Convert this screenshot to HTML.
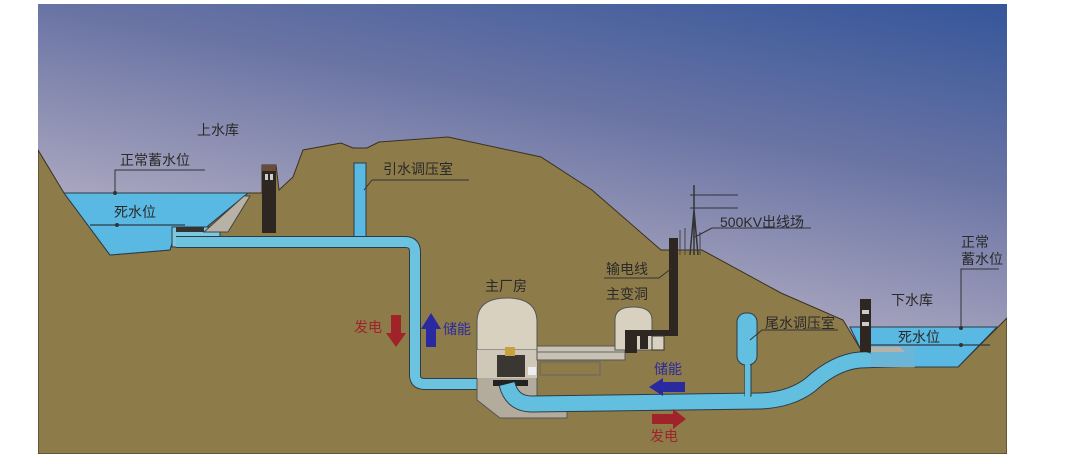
<!DOCTYPE html>
<html><head><meta charset="utf-8"><style>
html,body{margin:0;padding:0;background:#fff;width:1080px;height:473px;overflow:hidden}
svg{display:block}
text{font-family:"Liberation Sans","Noto Sans CJK SC",sans-serif;font-size:14px;fill:#2a2a2a}
</style></head><body>
<svg width="1080" height="473" viewBox="0 0 1080 473">
<defs>
<linearGradient id="sky" x1="1" y1="0" x2="0.6" y2="1">
<stop offset="0" stop-color="#35569a"/>
<stop offset="0.35" stop-color="#6a74a4"/>
<stop offset="0.7" stop-color="#a9a6bf"/>
<stop offset="1" stop-color="#d8cfd4"/>
</linearGradient>
<clipPath id="c"><rect x="38" y="4" width="969" height="450"/></clipPath>
</defs>
<g clip-path="url(#c)">
<rect x="38" y="4" width="969" height="450" fill="url(#sky)"/>
<!-- ground -->
<path d="M38,454 L38,150 L64,193 L110,255 L170,250 L176,230 L203,230 L248,193 L262,193 L262,165 L276,165 L279,190 L293,177 L303,150 L341,143 L353,148 L367,148 L379,142 L448,137 L541,157 L592,190 L661,250 L702,250 L781,293 L843,320 L861,350 L915,367 L958,367 L1007,318 L1007,454 Z" fill="#8e7b4a" stroke="#3a3020" stroke-width="1"/>
<!-- upper lake -->
<path d="M64,193 L248,193 L203,230 L176,230 L170,250 L110,255 Z" fill="#5ab9e2" stroke="#2c3b45" stroke-width="1"/>
<path d="M90,225 L185,225" stroke="#2c3b45" stroke-width="1.2"/>
<path d="M172,227 L220,227 L220,247 L172,247 Z" fill="#7cc6e0" stroke="#2c3b45"/>
<rect x="176" y="227" width="28" height="5" fill="#333"/>
<!-- dam -->
<path d="M204,232 L244,196 L250,196 L228,232 Z" fill="#b8b2a6" stroke="#444"/>
<!-- intake tower -->
<rect x="262" y="165" width="14" height="68" fill="#2e2620"/>
<rect x="262" y="165" width="14" height="6" fill="#6a4a3a"/>
<rect x="265" y="174" width="3" height="6" fill="#ccc"/><rect x="270" y="174" width="3" height="6" fill="#ccc"/>
<!-- surge shaft -->
<rect x="354" y="163" width="12" height="80" fill="#5ab9e2" stroke="#2c3b45"/>
<!-- penstock -->
<path d="M176,242 L405,242 Q415,242 415,252 L415,375 Q415,384 425,384 L492,384" fill="none" stroke="#2c3b45" stroke-width="12"/>
<path d="M176,242 L405,242 Q415,242 415,252 L415,375 Q415,384 425,384 L492,384" fill="none" stroke="#6cc3e0" stroke-width="10"/>
<!-- powerhouse -->
<path d="M477,350 L477,322 Q477,298 507,298 Q537,298 537,322 L537,350 Z" fill="#d8d1c0" stroke="#555"/>
<path d="M477,350 L537,350 L537,400 L567,400 L567,418 L500,418 L477,400 Z" fill="#b3ab9c" stroke="#555"/>
<rect x="477" y="350" width="60" height="28" fill="#cfc8b8"/>
<path d="M537,346 L625,346 L625,360 L537,360 Z" fill="#c8c2b4" stroke="#555"/>
<path d="M537,352 L625,352" stroke="#666"/>
<path d="M540,362 L600,362 L600,375 L540,375 Z" fill="#8e7b4a" stroke="#666"/>
<rect x="497" y="355" width="28" height="22" fill="#3a3632"/>
<rect x="505" y="347" width="10" height="9" fill="#c8a040"/>
<rect x="493" y="380" width="35" height="6" fill="#222"/>
<rect x="528" y="367" width="8" height="8" fill="#eee"/>
<!-- transformer cavern -->
<path d="M615,350 L615,320 Q615,307 633,307 Q652,307 652,320 L652,350 Z" fill="#d8d1c0" stroke="#555"/>
<path d="M625,330 L669,330 L669,238 L678,238 L678,336 L637,336 L637,353 L625,353 Z" fill="#2e2620"/>
<rect x="640" y="335" width="8" height="14" fill="#2e2620"/>
<rect x="652" y="336" width="12" height="14" fill="#d8d1c0" stroke="#333"/>
<!-- tailrace -->
<path d="M507,384 Q512,404 532,404 L760,401 Q790,400 810,385 Q835,362 860,360 L915,358" fill="none" stroke="#2c3b45" stroke-width="17"/>
<path d="M507,384 Q512,404 532,404 L760,401 Q790,400 810,385 Q835,362 860,360 L915,358" fill="none" stroke="#63bfe0" stroke-width="15"/>
<!-- tail surge -->
<rect x="745" y="350" width="6" height="46" fill="#63bfe0" stroke="#2c3b45"/>
<rect x="737" y="313" width="20" height="52" rx="9" fill="#63bfe0" stroke="#2c3b45"/>
<rect x="745" y="355" width="5" height="42" fill="#63bfe0"/>
<!-- lower reservoir -->
<path d="M850,327 L997,327 L958,367 L915,367 L861,350 Z" fill="#5ab9e2" stroke="#2c3b45"/>
<rect x="871" y="345" width="44" height="22" fill="#6ab5d8"/>
<path d="M871,345 L990,345" stroke="#2c3b45" stroke-width="1.2"/>
<path d="M871,347 L900,347 L905,352 L871,352 Z" fill="#b8b2a6"/>
<rect x="860" y="299" width="11" height="53" fill="#2e2620"/>
<rect x="862" y="310" width="7" height="4" fill="#ccc"/><rect x="862" y="322" width="7" height="4" fill="#ccc"/>
<!-- transmission tower -->
<path d="M694,185 L694,255 M690,255 L694,210 L698,255" stroke="#333" stroke-width="1.5" fill="none"/>
<path d="M690,195 L738,195 M690,208 L738,208" stroke="#333" stroke-width="1"/>
<path d="M680,255 L680,230 M685,255 L685,228 M700,255 L700,232" stroke="#444" stroke-width="1"/>
<!-- arrows -->
<path d="M391,315 L401,315 L401,333 L406,333 L396,347 L386,333 L391,333 Z" fill="#a0232a"/>
<path d="M426,347 L436,347 L436,329 L441,329 L431,313 L421,329 L426,329 Z" fill="#2a2aa0"/>
<path d="M685,382 L663,382 L663,378 L649,387 L663,396 L663,392 L685,392 Z" fill="#2a2aa0"/>
<path d="M652,414 L673,414 L673,409 L686,419 L673,429 L673,424 L652,424 Z" fill="#a0232a"/>
<!-- leader lines -->
<g stroke="#333" stroke-width="1" fill="none">
<path d="M115,193 L115,170 L205,170"/>
<path d="M372,180 L469,180 M372,180 L364,190"/>
<path d="M712,228 L811,228 M712,228 L695,237"/>
<path d="M604,278 L659,278 L672,268"/>
<path d="M762,330 L838,330 M762,330 L750,340"/>
<path d="M961,327 L961,269 L999,269"/>
</g>
<circle cx="115" cy="193" r="2" fill="#333"/><circle cx="117" cy="225" r="2" fill="#333"/>
<circle cx="961" cy="328" r="2" fill="#333"/><circle cx="961" cy="345" r="2" fill="#333"/>
<!-- labels -->
<text x="197" y="135">上水库</text>
<text x="120" y="165">正常蓄水位</text>
<text x="114" y="217">死水位</text>
<text x="383" y="174">引水调压室</text>
<text x="485" y="291">主厂房</text>
<text x="720" y="227">500KV出线场</text>
<text x="606" y="274">输电线</text>
<text x="606" y="299">主变洞</text>
<text x="765" y="328">尾水调压室</text>
<text x="891" y="305">下水库</text>
<text x="961" y="247">正常</text>
<text x="961" y="264">蓄水位</text>
<text x="898" y="342">死水位</text>
<text x="354" y="332" style="fill:#a0232a">发电</text>
<text x="443" y="334" style="fill:#2a2aa0">储能</text>
<text x="654" y="374" style="fill:#2a2aa0">储能</text>
<text x="650" y="441" style="fill:#a0232a">发电</text>
</g>
</svg>
</body></html>
